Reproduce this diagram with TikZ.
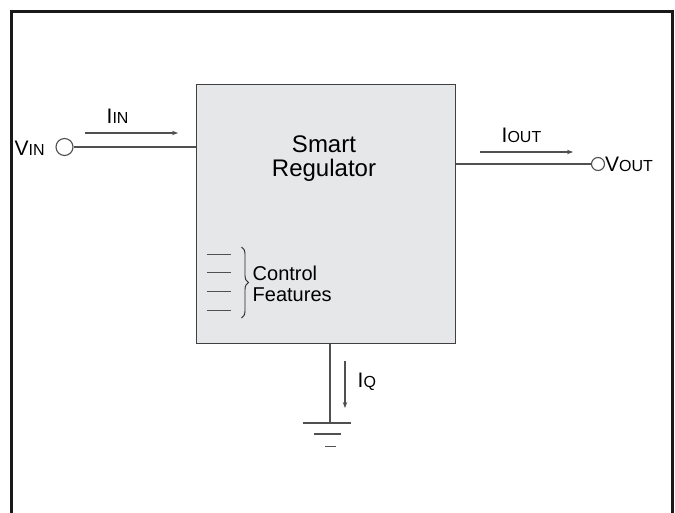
\documentclass[tikz,border=0pt]{standalone}
\usepackage{fontspec}
\setmainfont{Liberation Sans}
\usetikzlibrary{arrows.meta,decorations.pathreplacing}
\definecolor{boxfill}{HTML}{E6E7E8}
\definecolor{wire}{HTML}{505050}
\tikzset{
  wireline/.style={draw=wire, line width=1.1pt},
  currarrow/.style={draw=wire, line width=1.1pt, -{Stealth[length=6pt,width=4.5pt]}},
  term/.style={circle, draw=wire, line width=1.1pt, fill=white, minimum size=16pt, inner sep=0pt},
  lbl/.style={inner sep=0pt, anchor=base west},
}
\newcommand{\bigv}[2]{{\fontsize{21}{24}\selectfont #1}{\fontsize{16}{18}\selectfont #2}}
\begin{document}
\begin{tikzpicture}[x=1pt,y=-1pt]
\useasboundingbox (0,0) rectangle (675,512);
% frame
\draw[line width=3pt, color=black!90] (11.7,520) -- (11.7,11.5) -- (672.8,11.5) -- (672.8,520);
% regulator box
\node[draw=black!75, line width=1pt, fill=boxfill, minimum width=259pt, minimum height=259pt, inner sep=0pt] (reg) at (325.5,213.5) {};
\node[align=center, inner sep=0pt, font=\fontsize{24}{23.5}\selectfont, anchor=base] (title) at (324,176) {Smart\\Regulator};
% terminals
\node[term, minimum size=17pt] (vin) at (64.5,147) {};
\node[term, minimum size=13pt] (vout) at (598,164) {};
\coordinate (inpin) at (reg.west |- vin);
\coordinate (outpin) at (reg.east |- vout);
\draw[wireline] (vin.east) -- (inpin);
\draw[wireline] (outpin) -- (vout.west);
% labels
\node[lbl] (vinl) at (14.5,155) {\bigv{V}{IN}};
\node[lbl] (voutl) at (605,171.5) {\bigv{V}{OUT}};
\node[lbl] (iinl) at (106.5,123.5) {\bigv{I}{IN}};
\node[lbl] (ioutl) at (501.5,142) {\bigv{I}{OUT}};
% current arrows
\coordinate (iina) at (85,133);
\coordinate (iinb) at (178,133);
\draw[currarrow] (iina) -- (iinb);
\coordinate (iouta) at (480,152);
\coordinate (ioutb) at (573,152);
\draw[currarrow] (iouta) -- (ioutb);
% ground
\coordinate (gtop) at (330,423);
\draw[wireline] (reg.south -| gtop) -- (gtop);
\coordinate (g1a) at (303,423); \coordinate (g1b) at (351,423);
\coordinate (g2a) at (314,434); \coordinate (g2b) at (341,434);
\coordinate (g3a) at (325,446.5); \coordinate (g3b) at (336,446.5);
\draw[wireline] (g1a) -- (g1b);
\draw[wireline] (g2a) -- (g2b);
\draw[wireline] (g3a) -- (g3b);
\coordinate (iqa) at (345,361);
\coordinate (iqb) at (345,408);
\draw[currarrow] (iqa) -- (iqb);
\node[lbl] (iql) at (357.5,387) {\bigv{I}{Q}};
% control features
\foreach \yy/\nm in {254/c1,272.5/c2,291.5/c3,310/c4}{
  \coordinate (\nm a) at (206.5,\yy); \coordinate (\nm b) at (231,\yy);
  \draw[draw=wire, line width=0.9pt] (\nm a) -- (\nm b);
}
\coordinate (bra) at (241.5,247);
\coordinate (brb) at (241.5,318);
\draw[draw=black!85, line width=0.9pt, decorate, decoration={brace, amplitude=7pt}] (bra) -- (brb);
\node[align=left, inner sep=0pt, anchor=base west, font=\fontsize{20}{20.5}\selectfont] (ctrl) at (252.5,301) {Control\\Features};
\end{tikzpicture}
\end{document}
